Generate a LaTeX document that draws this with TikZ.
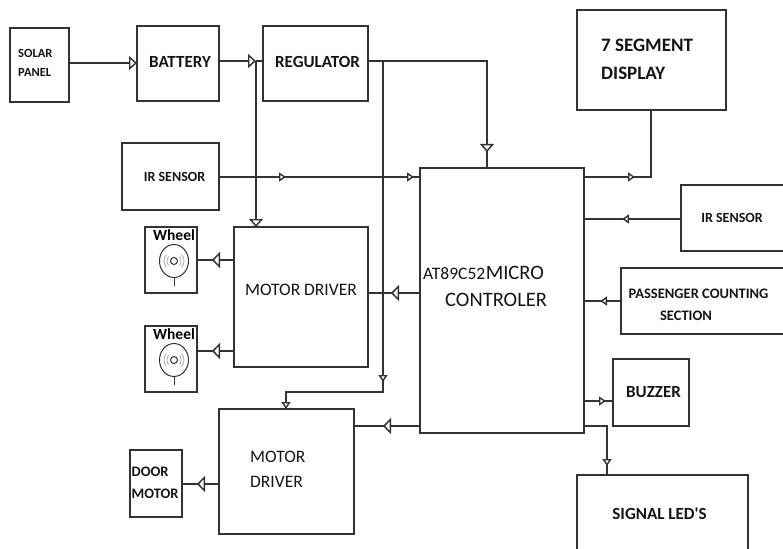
\documentclass[tikz,border=0pt]{standalone}
\usepackage{fontspec}
\setmainfont{Carlito}[Ligatures=TeXOff]
\usetikzlibrary{arrows.meta,decorations.markings}
\definecolor{ink}{HTML}{333333}
\definecolor{txt}{HTML}{151515}
\tikzset{
  tipS/.tip={Triangle[fill=white,length=7pt,width=9pt]},
  tipM/.tip={Triangle[fill=white,length=8pt,width=14pt]},
  tipL/.tip={Triangle[fill=white,length=8pt,width=16pt]},
}
\newcommand{\fs}[1]{\fontsize{#1}{#1}\selectfont}
\begin{document}
\begin{tikzpicture}[x=1pt,y=-1pt,
  box/.style={draw=ink, line width=1.45pt, inner sep=0pt, outer sep=0pt},
  ln/.style={draw=ink, line width=1.45pt},
  mk/.style={postaction={decorate,decoration={markings,#1}}},
  lbl/.style={text=txt, inner sep=0pt, align=center},
  lbll/.style={text=txt, inner sep=0pt, align=left, anchor=west},
  wheelpic/.pic={
    \draw[ink, line width=1pt] (0,0) ellipse (14.5 and 16.5);
    \draw[ink, line width=1pt] (0,0) circle (3.5);
    \draw[gray!65, line width=0.8pt] (-40:7) arc(-40:40:7);
    \draw[gray!65, line width=0.8pt] (-40:10) arc(-40:40:10);
    \draw[gray!65, line width=0.8pt] (140:7) arc(140:220:7);
    \draw[gray!65, line width=0.8pt] (140:10) arc(140:220:10);
    \draw[ink, line width=1pt] (0,16.5) -- (0,25);
  },
]
\useasboundingbox[fill=white] (0,0) rectangle (783,548);

% boxes
\node[box, minimum width=59pt, minimum height=74pt] (solar) at (39.5,65) {};
\node[box, minimum width=82pt, minimum height=75pt] (battery) at (178,63.5) {};
\node[box, minimum width=105pt, minimum height=75pt] (reg) at (315.5,63.5) {};
\node[box, minimum width=149pt, minimum height=100pt] (seg7) at (651.5,60) {};
\node[box, minimum width=97pt, minimum height=67pt] (irL) at (170.5,176.5) {};
\node[box, minimum width=164pt, minimum height=265pt] (micro) at (502,300.5) {};
\node[box, minimum width=109pt, minimum height=66pt] (irR) at (735.5,218) {};
\node[box, minimum width=169pt, minimum height=66pt] (pass) at (705.5,301) {};
\node[box, minimum width=76pt, minimum height=67pt] (buzzer) at (651,392.5) {};
\node[box, minimum width=171pt, minimum height=90pt] (leds) at (662.5,520) {};
\node[box, minimum width=134pt, minimum height=140pt] (md1) at (301,297) {};
\node[box, minimum width=52pt, minimum height=66pt] (wheel1) at (171,260) {};
\node[box, minimum width=52pt, minimum height=66pt] (wheel2) at (171,359) {};
\node[box, minimum width=135pt, minimum height=125pt] (md2) at (286.5,471.5) {};
\node[box, minimum width=52pt, minimum height=67pt] (door) at (156,483.5) {};

% labels
\node[lbll, font=\bfseries\fontsize{12.5}{19}\selectfont] (tsolar) at (18,62.5) {SOLAR\\PANEL};
\node[lbl, font=\bfseries\fs{17}] (tbat) at (180,62) {BATTERY};
\node[lbl, font=\bfseries\fs{17}] (treg) at (317.5,62) {REGULATOR};
\node[lbll, font=\bfseries\fontsize{19}{28}\selectfont] (tseg) at (601,59) {7 SEGMENT\\DISPLAY};
\node[lbl, font=\bfseries\fs{14}] (tirL) at (174.5,177) {IR SENSOR};
\node[lbl, font=\bfseries\fs{14}] (tirR) at (732,218) {IR SENSOR};
\node[lbll] (tmc1) at (423,273) {\fs{17.5}AT89C52\kern0.5pt\fs{20.5}MICRO};
\node[lbll, font=\fs{20.5}] (tmc2) at (445,300) {CONTROLER};
\node[lbl, font=\bfseries\fs{14.5}] (tpas1) at (698.5,294) {PASSENGER COUNTING};
\node[lbl, font=\bfseries\fs{14.5}] (tpas2) at (686,316) {SECTION};
\node[lbl, font=\bfseries\fs{17}] (tbuz) at (653.5,392) {BUZZER};
\node[lbl, font=\bfseries\fs{17}] (tled) at (659.5,514) {SIGNAL LED'S};
\node[lbl, font=\fs{17.5}] (tmd1) at (301,290) {MOTOR DRIVER};
\node[lbll, font=\fontsize{17.5}{25}\selectfont] (tmd2) at (250,469.5) {MOTOR\\DRIVER};
\node[lbll, font=\bfseries\fontsize{14.5}{22}\selectfont] (tdoor) at (131.5,483) {DOOR\\MOTOR};

% wheels
\pic at (174,261) {wheelpic};
\pic at (174,360) {wheelpic};
\node[lbl, text=black, font=\bfseries\fs{15.5}] (tw1) at (174,235) {Wheel};
\node[lbl, text=black, font=\bfseries\fs{15.5}] (tw2) at (174,334) {Wheel};

% junctions
\coordinate (j1) at (256,61);
\coordinate (j2) at (383,61);
\coordinate (r1) at (487,61);
\coordinate (s1) at (651,177);
\coordinate (d1) at (383,392);
\coordinate (d2) at (286,392);
\coordinate (l1) at (607,426);

% connectors
\draw[ln,-{tipM}] (solar.east |- 0,63) -- (battery.west |- 0,63);
\draw[ln,-{tipM}] (battery.east |- j1) -- (j1);
\draw[ln] (j1) -- (reg.west |- j1);
\draw[ln,-{tipM}] (j1) -- (j1 |- md1.north);
\draw[ln,mk={mark=at position -16pt with {\arrow{tipM}}}] (reg.east |- j1) -- (r1) -- (r1 |- micro.north);
\draw[ln,-{tipS},mk={mark=at position 321pt with {\arrow{tipS}}}] (j2) -- (d1) -- (d2) -- (d2 |- md2.north);
\draw[ln,mk={mark=at position 67pt with {\arrow{tipS}}, mark=at position -6pt with {\arrow{tipS}}}] (irL.east |- 0,177) -- (micro.west |- 0,177);
\draw[ln,mk={mark=at position 51pt with {\arrow{tipS}}}] (micro.east |- s1) -- (s1) -- (s1 |- seg7.south);
\draw[ln,mk={mark=at position 59pt with {\arrow{tipS}}}] (irR.west |- 0,219) -- (micro.east |- 0,219);
\draw[ln,mk={mark=at position 21pt with {\arrow{tipS}}}] (pass.west) -- (pass.west -| micro.east);
\draw[ln,mk={mark=at position -7pt with {\arrow{tipS}}}] (micro.east |- 0,401) -- (buzzer.west |- 0,401);
\draw[ln,mk={mark=at position -9pt with {\arrow{tipS}}}] (micro.east |- l1) -- (l1) -- (l1 |- leds.north);
\draw[ln,mk={mark=at position 29pt with {\arrow{tipL}}}] (micro.west |- 0,293) -- (md1.east |- 0,293);
\draw[ln,mk={mark=at position 22pt with {\arrow{tipL}}}] (md1.west |- wheel1.east) -- (wheel1.east);
\draw[ln,mk={mark=at position 22pt with {\arrow{tipL}}}] (md1.west |- 0,351) -- (wheel2.east |- 0,351);
\draw[ln,mk={mark=at position 37pt with {\arrow{tipL}}}] (micro.west |- 0,426) -- (md2.east |- 0,426);
\draw[ln,mk={mark=at position 22pt with {\arrow{tipL}}}] (md2.west |- 0,484) -- (door.east |- 0,484);
\end{tikzpicture}
\end{document}
